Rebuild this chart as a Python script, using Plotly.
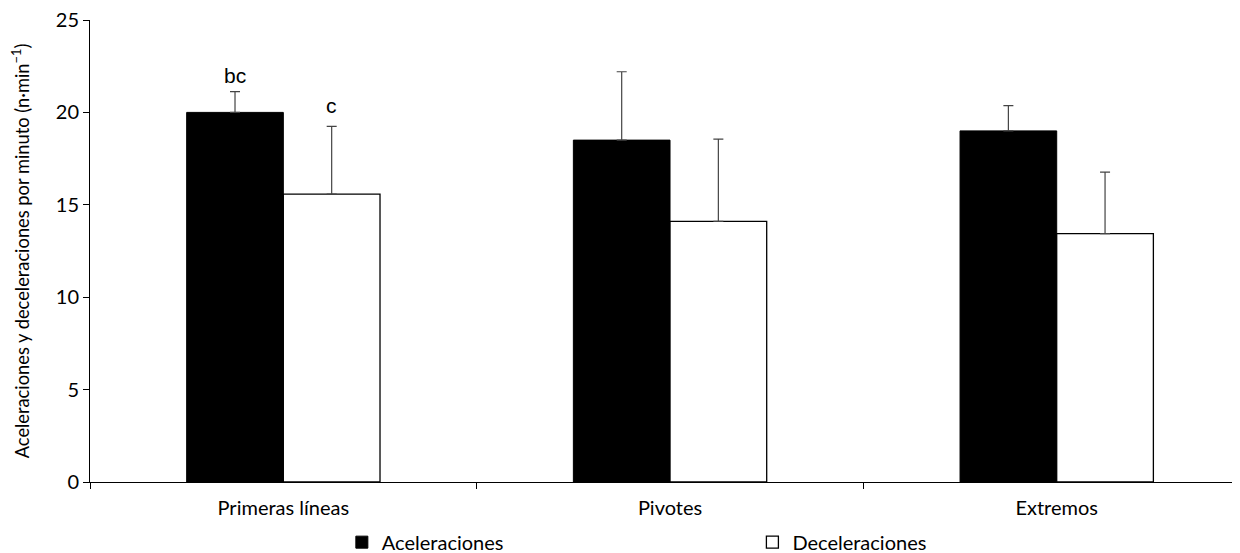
import plotly.graph_objects as go

categories = ["Primeras líneas", "Pivotes", "Extremos"]
acel = [20.0, 18.5, 19.0]
acel_err = [1.12, 3.7, 1.37]
decel = [15.58, 14.1, 13.44]
decel_err = [3.66, 4.45, 3.33]
acel_labels = ["bc", "", ""]
decel_labels = ["c", "", ""]

FONT = "Lato, 'Open Sans', sans-serif"

fig = go.Figure()
fig.add_trace(go.Bar(
    x=categories, y=acel, name="Aceleraciones", legend="legend",
    marker=dict(color="black", line=dict(color="black", width=1)),
    error_y=dict(type="data", array=acel_err, symmetric=False, arrayminus=[0, 0, 0],
                 color="#444444", thickness=1.2, width=5),
))
fig.add_trace(go.Bar(
    x=categories, y=decel, name="Deceleraciones", legend="legend2",
    marker=dict(color="white", line=dict(color="black", width=1.3)),
    error_y=dict(type="data", array=decel_err, symmetric=False, arrayminus=[0, 0, 0],
                 color="#444444", thickness=1.2, width=5),
))

# significance letters
for i, c in enumerate(categories):
    if acel_labels[i]:
        fig.add_annotation(x=c, y=acel[i] + acel_err[i], text=acel_labels[i], xref="x", yref="y",
                           xshift=-48.5, yshift=16, showarrow=False,
                           font=dict(family="Liberation Sans, Arial", size=21, color="black"))
    if decel_labels[i]:
        fig.add_annotation(x=c, y=decel[i] + decel_err[i], text=decel_labels[i], xref="x", yref="y",
                           xshift=48.5, yshift=21, showarrow=False,
                           font=dict(family="Liberation Sans, Arial", size=21, color="black"))

legend_common = dict(orientation="h", yanchor="top", xanchor="left",
                     font=dict(family=FONT, size=20, color="black"),
                     itemwidth=30, bgcolor="rgba(0,0,0,0)")

fig.update_layout(
    width=1240, height=553,
    margin=dict(l=82, r=8, t=12, b=79, autoexpand=False),
    paper_bgcolor="white", plot_bgcolor="white",
    barmode="group", bargap=0.5, bargroupgap=0,
    font=dict(family=FONT, size=20, color="black"),
    showlegend=True,
    legend=dict(x=0.219, y=-0.088, **legend_common),
    legend2=dict(x=0.576, y=-0.088, **legend_common),
)
fig.update_xaxes(
    range=[-0.5, 2.474], showline=True, linecolor="black", linewidth=1,
    ticks="outside", tickson="boundaries", ticklen=6, tickcolor="black",
    tickfont=dict(family=FONT, size=20), showgrid=False, zeroline=False,
    ticklabelstandoff=8, automargin=False,
)
fig.update_yaxes(
    range=[0, 25], dtick=5, showline=True, linecolor="black", linewidth=1,
    ticks="outside", ticklen=6, tickcolor="black", showgrid=False, zeroline=False,
    tickfont=dict(family=FONT, size=20), automargin=False, ticklabeloverflow="allow",
    title=dict(text="Aceleraciones y deceleraciones por minuto (n·min<sup>−1</sup>)",
               font=dict(family=FONT, size=18.3), standoff=28),
)

fig.write_html("out.html")
